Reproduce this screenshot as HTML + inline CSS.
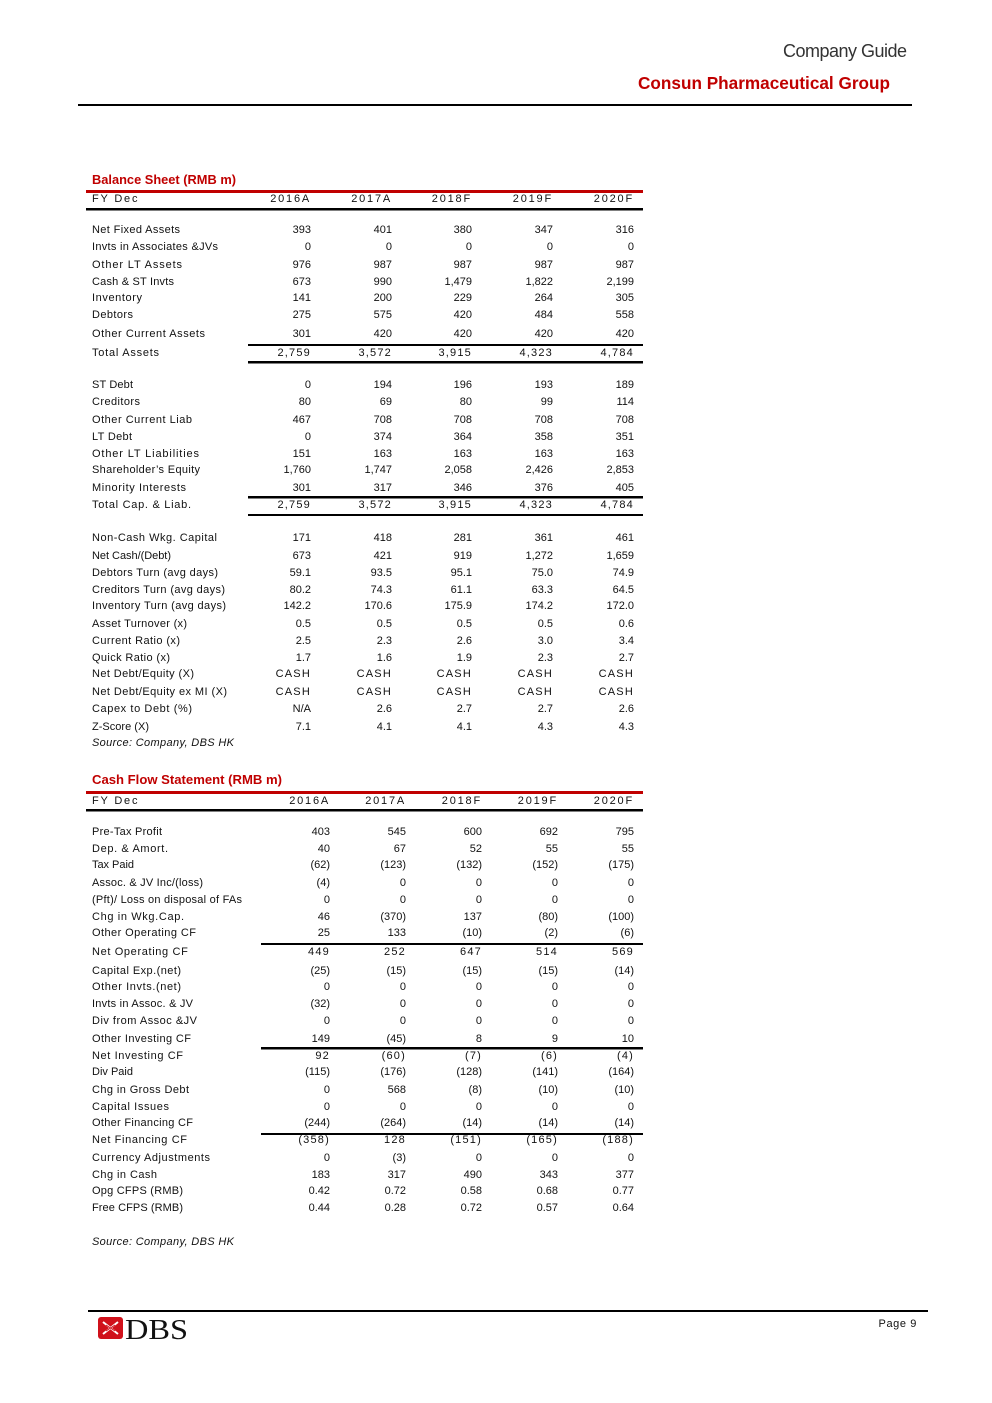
<!DOCTYPE html>
<html><head><meta charset="utf-8"><style>
html,body{margin:0;padding:0;background:#fff;}
svg{display:block;}
text{font-family:"Liberation Sans",sans-serif;font-size:11px;fill:#111;}
.n{text-anchor:end;}
.t{letter-spacing:1.2px;}
.h{letter-spacing:1.8px;}
.red{fill:#c00000;font-weight:bold;}
</style></head><body>
<svg width="992" height="1403" viewBox="0 0 992 1403" xmlns="http://www.w3.org/2000/svg">
<rect width="992" height="1403" fill="#fff"/>
<!-- Header -->
<text x="907" y="57" style="font-size:18px;fill:#333;text-anchor:end" textLength="124" lengthAdjust="spacing">Company Guide</text>
<text x="890" y="89" class="red" style="font-size:17.5px;text-anchor:end" textLength="252" lengthAdjust="spacingAndGlyphs">Consun Pharmaceutical Group</text>
<rect x="78" y="104" width="834" height="2" fill="#000"/>

<!-- Balance Sheet -->
<text x="92" y="184" class="red" style="font-size:12.5px" textLength="144" lengthAdjust="spacingAndGlyphs">Balance Sheet (RMB m)</text>
<rect x="86" y="190" width="557" height="3" fill="#c00000"/>
<text x="92" y="202" class="h">FY Dec</text>
<g class="n">
<text x="311" y="202" class="n h">2016A</text><text x="392" y="202" class="n h">2017A</text><text x="472" y="202" class="n h">2018F</text><text x="553" y="202" class="n h">2019F</text><text x="634" y="202" class="n h">2020F</text>
</g>
<rect x="86" y="208" width="557" height="2.5" fill="#000"/>

<g>
<text x="92" y="233" textLength="88" lengthAdjust="spacing">Net Fixed Assets</text>
<text x="92" y="250" textLength="126" lengthAdjust="spacing">Invts in Associates &amp;JVs</text>
<text x="92" y="268" textLength="90" lengthAdjust="spacing">Other LT  Assets</text>
<text x="92" y="285" textLength="82" lengthAdjust="spacing">Cash &amp; ST Invts</text>
<text x="92" y="301" textLength="50" lengthAdjust="spacing">Inventory</text>
<text x="92" y="318" textLength="41" lengthAdjust="spacing">Debtors</text>
<text x="92" y="337" textLength="113" lengthAdjust="spacing">Other Current Assets</text>
<text x="92" y="356" textLength="67" lengthAdjust="spacing">Total Assets</text>
<text x="92" y="388" textLength="41" lengthAdjust="spacing">ST Debt</text>
<text x="92" y="405" textLength="48" lengthAdjust="spacing">Creditors</text>
<text x="92" y="423" textLength="100" lengthAdjust="spacing">Other Current Liab</text>
<text x="92" y="440" textLength="40" lengthAdjust="spacing">LT Debt</text>
<text x="92" y="457" textLength="107" lengthAdjust="spacing">Other LT  Liabilities</text>
<text x="92" y="473" textLength="108" lengthAdjust="spacing">Shareholder’s Equity</text>
<text x="92" y="491" textLength="94" lengthAdjust="spacing">Minority Interests</text>
<text x="92" y="508" textLength="99" lengthAdjust="spacing">Total Cap. &amp; Liab.</text>
<text x="92" y="541" textLength="125" lengthAdjust="spacing">Non-Cash Wkg. Capital</text>
<text x="92" y="559" textLength="79" lengthAdjust="spacing">Net Cash/(Debt)</text>
<text x="92" y="576" textLength="126" lengthAdjust="spacing">Debtors Turn (avg days)</text>
<text x="92" y="593" textLength="133" lengthAdjust="spacing">Creditors Turn (avg days)</text>
<text x="92" y="609" textLength="134" lengthAdjust="spacing">Inventory Turn (avg days)</text>
<text x="92" y="627" textLength="95" lengthAdjust="spacing">Asset Turnover (x)</text>
<text x="92" y="644" textLength="88" lengthAdjust="spacing">Current Ratio (x)</text>
<text x="92" y="661" textLength="78" lengthAdjust="spacing">Quick Ratio (x)</text>
<text x="92" y="677" textLength="102" lengthAdjust="spacing">Net Debt/Equity (X)</text>
<text x="92" y="695" textLength="135" lengthAdjust="spacing">Net Debt/Equity ex MI (X)</text>
<text x="92" y="712" textLength="100" lengthAdjust="spacing">Capex to Debt (%)</text>
<text x="92" y="730" textLength="57" lengthAdjust="spacing">Z-Score (X)</text>
<text x="92" y="746" style="font-style:italic" textLength="142" lengthAdjust="spacing">Source: Company, DBS HK</text>
</g>

<g class="n">
<!-- row values: x 311 392 472 553 634 -->
<text class="n" x="311" y="233">393</text><text class="n" x="392" y="233">401</text><text class="n" x="472" y="233">380</text><text class="n" x="553" y="233">347</text><text class="n" x="634" y="233">316</text>
<text class="n" x="311" y="250">0</text><text class="n" x="392" y="250">0</text><text class="n" x="472" y="250">0</text><text class="n" x="553" y="250">0</text><text class="n" x="634" y="250">0</text>
<text class="n" x="311" y="268">976</text><text class="n" x="392" y="268">987</text><text class="n" x="472" y="268">987</text><text class="n" x="553" y="268">987</text><text class="n" x="634" y="268">987</text>
<text class="n" x="311" y="285">673</text><text class="n" x="392" y="285">990</text><text class="n" x="472" y="285">1,479</text><text class="n" x="553" y="285">1,822</text><text class="n" x="634" y="285">2,199</text>
<text class="n" x="311" y="301">141</text><text class="n" x="392" y="301">200</text><text class="n" x="472" y="301">229</text><text class="n" x="553" y="301">264</text><text class="n" x="634" y="301">305</text>
<text class="n" x="311" y="318">275</text><text class="n" x="392" y="318">575</text><text class="n" x="472" y="318">420</text><text class="n" x="553" y="318">484</text><text class="n" x="634" y="318">558</text>
<text class="n" x="311" y="337">301</text><text class="n" x="392" y="337">420</text><text class="n" x="472" y="337">420</text><text class="n" x="553" y="337">420</text><text class="n" x="634" y="337">420</text>
<text class="n t" x="311" y="356">2,759</text><text class="n t" x="392" y="356">3,572</text><text class="n t" x="472" y="356">3,915</text><text class="n t" x="553" y="356">4,323</text><text class="n t" x="634" y="356">4,784</text>
<text class="n" x="311" y="388">0</text><text class="n" x="392" y="388">194</text><text class="n" x="472" y="388">196</text><text class="n" x="553" y="388">193</text><text class="n" x="634" y="388">189</text>
<text class="n" x="311" y="405">80</text><text class="n" x="392" y="405">69</text><text class="n" x="472" y="405">80</text><text class="n" x="553" y="405">99</text><text class="n" x="634" y="405">114</text>
<text class="n" x="311" y="423">467</text><text class="n" x="392" y="423">708</text><text class="n" x="472" y="423">708</text><text class="n" x="553" y="423">708</text><text class="n" x="634" y="423">708</text>
<text class="n" x="311" y="440">0</text><text class="n" x="392" y="440">374</text><text class="n" x="472" y="440">364</text><text class="n" x="553" y="440">358</text><text class="n" x="634" y="440">351</text>
<text class="n" x="311" y="457">151</text><text class="n" x="392" y="457">163</text><text class="n" x="472" y="457">163</text><text class="n" x="553" y="457">163</text><text class="n" x="634" y="457">163</text>
<text class="n" x="311" y="473">1,760</text><text class="n" x="392" y="473">1,747</text><text class="n" x="472" y="473">2,058</text><text class="n" x="553" y="473">2,426</text><text class="n" x="634" y="473">2,853</text>
<text class="n" x="311" y="491">301</text><text class="n" x="392" y="491">317</text><text class="n" x="472" y="491">346</text><text class="n" x="553" y="491">376</text><text class="n" x="634" y="491">405</text>
<text class="n t" x="311" y="508">2,759</text><text class="n t" x="392" y="508">3,572</text><text class="n t" x="472" y="508">3,915</text><text class="n t" x="553" y="508">4,323</text><text class="n t" x="634" y="508">4,784</text>
<text class="n" x="311" y="541">171</text><text class="n" x="392" y="541">418</text><text class="n" x="472" y="541">281</text><text class="n" x="553" y="541">361</text><text class="n" x="634" y="541">461</text>
<text class="n" x="311" y="559">673</text><text class="n" x="392" y="559">421</text><text class="n" x="472" y="559">919</text><text class="n" x="553" y="559">1,272</text><text class="n" x="634" y="559">1,659</text>
<text class="n" x="311" y="576">59.1</text><text class="n" x="392" y="576">93.5</text><text class="n" x="472" y="576">95.1</text><text class="n" x="553" y="576">75.0</text><text class="n" x="634" y="576">74.9</text>
<text class="n" x="311" y="593">80.2</text><text class="n" x="392" y="593">74.3</text><text class="n" x="472" y="593">61.1</text><text class="n" x="553" y="593">63.3</text><text class="n" x="634" y="593">64.5</text>
<text class="n" x="311" y="609">142.2</text><text class="n" x="392" y="609">170.6</text><text class="n" x="472" y="609">175.9</text><text class="n" x="553" y="609">174.2</text><text class="n" x="634" y="609">172.0</text>
<text class="n" x="311" y="627">0.5</text><text class="n" x="392" y="627">0.5</text><text class="n" x="472" y="627">0.5</text><text class="n" x="553" y="627">0.5</text><text class="n" x="634" y="627">0.6</text>
<text class="n" x="311" y="644">2.5</text><text class="n" x="392" y="644">2.3</text><text class="n" x="472" y="644">2.6</text><text class="n" x="553" y="644">3.0</text><text class="n" x="634" y="644">3.4</text>
<text class="n" x="311" y="661">1.7</text><text class="n" x="392" y="661">1.6</text><text class="n" x="472" y="661">1.9</text><text class="n" x="553" y="661">2.3</text><text class="n" x="634" y="661">2.7</text>
<text class="n t" x="311" y="677">CASH</text><text class="n t" x="392" y="677">CASH</text><text class="n t" x="472" y="677">CASH</text><text class="n t" x="553" y="677">CASH</text><text class="n t" x="634" y="677">CASH</text>
<text class="n t" x="311" y="695">CASH</text><text class="n t" x="392" y="695">CASH</text><text class="n t" x="472" y="695">CASH</text><text class="n t" x="553" y="695">CASH</text><text class="n t" x="634" y="695">CASH</text>
<text class="n" x="311" y="712">N/A</text><text class="n" x="392" y="712">2.6</text><text class="n" x="472" y="712">2.7</text><text class="n" x="553" y="712">2.7</text><text class="n" x="634" y="712">2.6</text>
<text class="n" x="311" y="730">7.1</text><text class="n" x="392" y="730">4.1</text><text class="n" x="472" y="730">4.1</text><text class="n" x="553" y="730">4.3</text><text class="n" x="634" y="730">4.3</text>
</g>
<rect x="248" y="344" width="395" height="2" fill="#000"/>
<rect x="248" y="361" width="395" height="2.5" fill="#000"/>
<rect x="248" y="496" width="395" height="2.5" fill="#000"/>
<rect x="248" y="514" width="395" height="2" fill="#000"/>

<!-- Cash Flow -->
<text x="92" y="784" class="red" style="font-size:12.5px" textLength="190" lengthAdjust="spacingAndGlyphs">Cash Flow Statement (RMB m)</text>
<rect x="86" y="791" width="557" height="3" fill="#c00000"/>
<text x="92" y="804" class="h">FY Dec</text>
<text x="330" y="804" class="n h">2016A</text><text x="406" y="804" class="n h">2017A</text><text x="482" y="804" class="n h">2018F</text><text x="558" y="804" class="n h">2019F</text><text x="634" y="804" class="n h">2020F</text>
<rect x="86" y="809" width="557" height="2.5" fill="#000"/>

<g>
<text x="92" y="835" textLength="70" lengthAdjust="spacing">Pre-Tax Profit</text>
<text x="92" y="852" textLength="76" lengthAdjust="spacing">Dep. &amp; Amort.</text>
<text x="92" y="868" textLength="42" lengthAdjust="spacing">Tax Paid</text>
<text x="92" y="886" textLength="111" lengthAdjust="spacing">Assoc. &amp; JV Inc/(loss)</text>
<text x="92" y="903" textLength="150" lengthAdjust="spacing">(Pft)/ Loss on disposal of FAs</text>
<text x="92" y="920" textLength="92" lengthAdjust="spacing">Chg in Wkg.Cap.</text>
<text x="92" y="936" textLength="104" lengthAdjust="spacing">Other Operating CF</text>
<text x="92" y="955" class="t" textLength="97" lengthAdjust="spacing">Net Operating CF</text>
<text x="92" y="974" textLength="89" lengthAdjust="spacing">Capital Exp.(net)</text>
<text x="92" y="990" textLength="89" lengthAdjust="spacing">Other Invts.(net)</text>
<text x="92" y="1007" textLength="101" lengthAdjust="spacing">Invts in Assoc. &amp; JV</text>
<text x="92" y="1024" textLength="105" lengthAdjust="spacing">Div from Assoc &amp;JV</text>
<text x="92" y="1042" textLength="99" lengthAdjust="spacing">Other Investing CF</text>
<text x="92" y="1059" textLength="91" lengthAdjust="spacing">Net Investing CF</text>
<text x="92" y="1075" textLength="41" lengthAdjust="spacing">Div Paid</text>
<text x="92" y="1093" textLength="97" lengthAdjust="spacing">Chg in Gross Debt</text>
<text x="92" y="1110" textLength="77" lengthAdjust="spacing">Capital  Issues</text>
<text x="92" y="1126" textLength="101" lengthAdjust="spacing">Other Financing CF</text>
<text x="92" y="1143" textLength="95" lengthAdjust="spacing">Net Financing CF</text>
<text x="92" y="1161" textLength="118" lengthAdjust="spacing">Currency Adjustments</text>
<text x="92" y="1178" textLength="65" lengthAdjust="spacing">Chg in Cash</text>
<text x="92" y="1194" textLength="91" lengthAdjust="spacing">Opg CFPS (RMB)</text>
<text x="92" y="1211" textLength="91" lengthAdjust="spacing">Free CFPS (RMB)</text>
<text x="92" y="1245" style="font-style:italic" textLength="142" lengthAdjust="spacing">Source: Company, DBS HK</text>
</g>

<g>
<text class="n" x="330" y="835">403</text><text class="n" x="406" y="835">545</text><text class="n" x="482" y="835">600</text><text class="n" x="558" y="835">692</text><text class="n" x="634" y="835">795</text>
<text class="n" x="330" y="852">40</text><text class="n" x="406" y="852">67</text><text class="n" x="482" y="852">52</text><text class="n" x="558" y="852">55</text><text class="n" x="634" y="852">55</text>
<text class="n" x="330" y="868">(62)</text><text class="n" x="406" y="868">(123)</text><text class="n" x="482" y="868">(132)</text><text class="n" x="558" y="868">(152)</text><text class="n" x="634" y="868">(175)</text>
<text class="n" x="330" y="886">(4)</text><text class="n" x="406" y="886">0</text><text class="n" x="482" y="886">0</text><text class="n" x="558" y="886">0</text><text class="n" x="634" y="886">0</text>
<text class="n" x="330" y="903">0</text><text class="n" x="406" y="903">0</text><text class="n" x="482" y="903">0</text><text class="n" x="558" y="903">0</text><text class="n" x="634" y="903">0</text>
<text class="n" x="330" y="920">46</text><text class="n" x="406" y="920">(370)</text><text class="n" x="482" y="920">137</text><text class="n" x="558" y="920">(80)</text><text class="n" x="634" y="920">(100)</text>
<text class="n" x="330" y="936">25</text><text class="n" x="406" y="936">133</text><text class="n" x="482" y="936">(10)</text><text class="n" x="558" y="936">(2)</text><text class="n" x="634" y="936">(6)</text>
<text class="n t" x="330" y="955">449</text><text class="n t" x="406" y="955">252</text><text class="n t" x="482" y="955">647</text><text class="n t" x="558" y="955">514</text><text class="n t" x="634" y="955">569</text>
<text class="n" x="330" y="974">(25)</text><text class="n" x="406" y="974">(15)</text><text class="n" x="482" y="974">(15)</text><text class="n" x="558" y="974">(15)</text><text class="n" x="634" y="974">(14)</text>
<text class="n" x="330" y="990">0</text><text class="n" x="406" y="990">0</text><text class="n" x="482" y="990">0</text><text class="n" x="558" y="990">0</text><text class="n" x="634" y="990">0</text>
<text class="n" x="330" y="1007">(32)</text><text class="n" x="406" y="1007">0</text><text class="n" x="482" y="1007">0</text><text class="n" x="558" y="1007">0</text><text class="n" x="634" y="1007">0</text>
<text class="n" x="330" y="1024">0</text><text class="n" x="406" y="1024">0</text><text class="n" x="482" y="1024">0</text><text class="n" x="558" y="1024">0</text><text class="n" x="634" y="1024">0</text>
<text class="n" x="330" y="1042">149</text><text class="n" x="406" y="1042">(45)</text><text class="n" x="482" y="1042">8</text><text class="n" x="558" y="1042">9</text><text class="n" x="634" y="1042">10</text>
<text class="n t" x="330" y="1059">92</text><text class="n t" x="406" y="1059">(60)</text><text class="n t" x="482" y="1059">(7)</text><text class="n t" x="558" y="1059">(6)</text><text class="n t" x="634" y="1059">(4)</text>
<text class="n" x="330" y="1075">(115)</text><text class="n" x="406" y="1075">(176)</text><text class="n" x="482" y="1075">(128)</text><text class="n" x="558" y="1075">(141)</text><text class="n" x="634" y="1075">(164)</text>
<text class="n" x="330" y="1093">0</text><text class="n" x="406" y="1093">568</text><text class="n" x="482" y="1093">(8)</text><text class="n" x="558" y="1093">(10)</text><text class="n" x="634" y="1093">(10)</text>
<text class="n" x="330" y="1110">0</text><text class="n" x="406" y="1110">0</text><text class="n" x="482" y="1110">0</text><text class="n" x="558" y="1110">0</text><text class="n" x="634" y="1110">0</text>
<text class="n" x="330" y="1126">(244)</text><text class="n" x="406" y="1126">(264)</text><text class="n" x="482" y="1126">(14)</text><text class="n" x="558" y="1126">(14)</text><text class="n" x="634" y="1126">(14)</text>
<text class="n t" x="330" y="1143">(358)</text><text class="n t" x="406" y="1143">128</text><text class="n t" x="482" y="1143">(151)</text><text class="n t" x="558" y="1143">(165)</text><text class="n t" x="634" y="1143">(188)</text>
<text class="n" x="330" y="1161">0</text><text class="n" x="406" y="1161">(3)</text><text class="n" x="482" y="1161">0</text><text class="n" x="558" y="1161">0</text><text class="n" x="634" y="1161">0</text>
<text class="n" x="330" y="1178">183</text><text class="n" x="406" y="1178">317</text><text class="n" x="482" y="1178">490</text><text class="n" x="558" y="1178">343</text><text class="n" x="634" y="1178">377</text>
<text class="n" x="330" y="1194">0.42</text><text class="n" x="406" y="1194">0.72</text><text class="n" x="482" y="1194">0.58</text><text class="n" x="558" y="1194">0.68</text><text class="n" x="634" y="1194">0.77</text>
<text class="n" x="330" y="1211">0.44</text><text class="n" x="406" y="1211">0.28</text><text class="n" x="482" y="1211">0.72</text><text class="n" x="558" y="1211">0.57</text><text class="n" x="634" y="1211">0.64</text>
</g>
<rect x="261" y="943" width="382" height="2" fill="#000"/>
<rect x="261" y="1047" width="382" height="2.5" fill="#000"/>
<rect x="261" y="1133" width="382" height="2" fill="#000"/>

<!-- Footer -->
<rect x="88" y="1310" width="840" height="2" fill="#000"/>
<rect x="98" y="1317" width="25" height="22" rx="3" fill="#d0111b"/>
<path d="M103 1322 L118 1334 M118 1322 L103 1334" stroke="#fff" stroke-width="2"/>
<path d="M106 1325 L115 1331 M115 1325 L106 1331" stroke="#d0111b" stroke-width="1"/>
<text x="125" y="1339" style="font-family:'Liberation Serif',serif;font-size:29px;fill:#111" textLength="63" lengthAdjust="spacingAndGlyphs">DBS</text>
<text x="917" y="1327" class="n" style="letter-spacing:0.6px">Page 9</text>
</svg>
</body></html>
